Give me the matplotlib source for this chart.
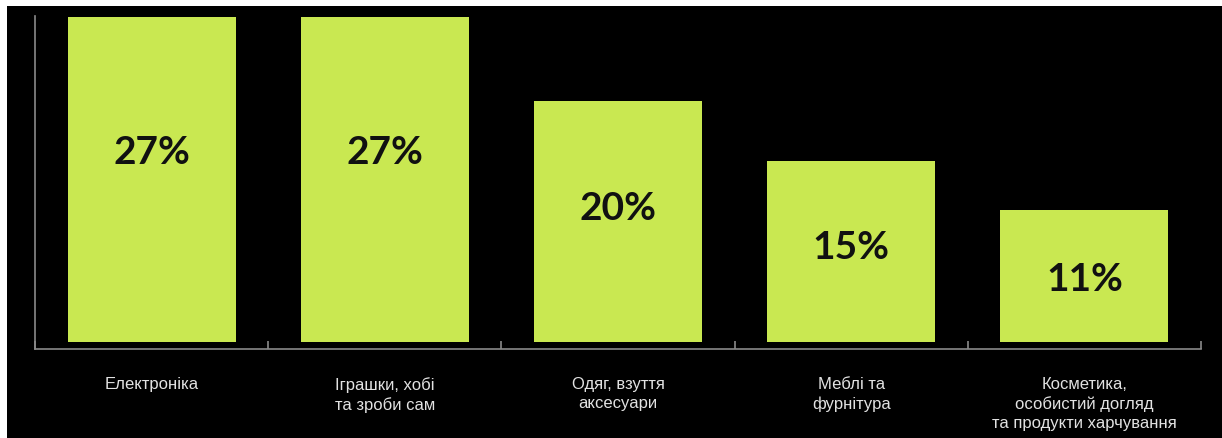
import matplotlib
matplotlib.use("Agg")
import matplotlib.pyplot as plt
from matplotlib.patches import Rectangle
import numpy as np

categories = [
    "Електроніка",
    "Іграшки, хобі\nта зроби сам",
    "Одяг, взуття\nаксесуари",
    "Меблі та\nфурнітура",
    "Косметика,\nособистий догляд\nта продукти харчування",
]
shares = [27, 27, 20, 15, 11]
share_labels = ["27%", "27%", "20%", "15%", "11%"]

bar_color = "#C9E851"
axis_color = "#8A8A8A"
label_color = "#E2E2E2"

fig = plt.figure(figsize=(12.22, 4.39), dpi=100, facecolor="black")
ax = fig.add_axes([35 / 1222, 1 - 350 / 439, (1201 - 35) / 1222, (350 - 17) / 439])
ax.set_facecolor("black")

x = np.arange(len(categories))
ax.bar(x, shares, width=0.72, color=bar_color, zorder=2)

for xi, v, lab in zip(x, shares, share_labels):
    ax.text(xi, v * 0.66 - 2.0, lab, ha="center", va="center",
            fontsize=28, fontweight="bold", color="#111111",
            family=["Lato", "DejaVu Sans"], zorder=3)

ax.set_xlim(-0.5, len(categories) - 0.5)
ax.set_ylim(-0.58, 27.08)

for side in ("top", "right"):
    ax.spines[side].set_visible(False)
for side in ("left", "bottom"):
    ax.spines[side].set_color(axis_color)
    ax.spines[side].set_linewidth(1.2)

ax.set_yticks([])
ax.set_xticks(np.arange(len(categories) + 1) - 0.5)
ax.set_xticklabels([])
ax.tick_params(axis="x", which="major", direction="in", length=6,
               width=1.2, color=axis_color)
ax.set_xticks(x, minor=True)
ax.set_xticklabels(categories, minor=True, fontsize=12, color=label_color,
                   family=["Liberation Sans Narrow", "Liberation Sans"],
                   linespacing=1.32)
ax.tick_params(axis="x", which="minor", length=0, pad=19.5)

# light frame strips along the top and left edges
fig.patches.append(Rectangle((0, 1 - 7 / 439), 1, 7 / 439, transform=fig.transFigure,
                             facecolor="white", edgecolor="none", zorder=10))
fig.patches.append(Rectangle((0, 0), 7 / 1222, 1, transform=fig.transFigure,
                             facecolor="white", edgecolor="none", zorder=10))

fig.savefig("out.png", dpi=100, facecolor="black")
